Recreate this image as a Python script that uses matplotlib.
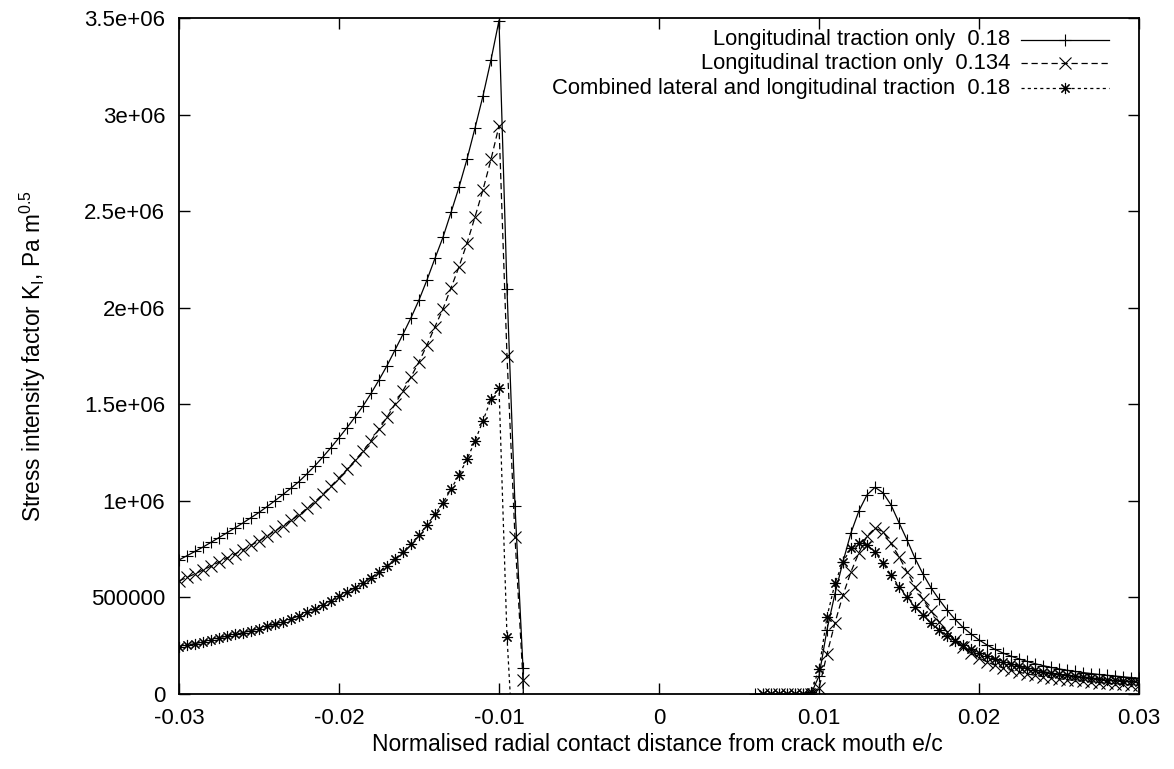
import matplotlib
matplotlib.use("Agg")
import matplotlib.pyplot as plt

# Données (K_I en Pa m^0.5)
x_left = [-0.0300, -0.0295, -0.0290, -0.0285, -0.0280, -0.0275, -0.0270, -0.0265,
          -0.0260, -0.0255, -0.0250, -0.0245, -0.0240, -0.0235, -0.0230, -0.0225,
          -0.0220, -0.0215, -0.0210, -0.0205, -0.0200, -0.0195, -0.0190, -0.0185,
          -0.0180, -0.0175, -0.0170, -0.0165, -0.0160, -0.0155, -0.0150, -0.0145,
          -0.0140, -0.0135, -0.0130, -0.0125, -0.0120, -0.0115, -0.0110, -0.0105,
          -0.0100, -0.0095, -0.0090, -0.0085, -0.0080]

x_right = [0.0060, 0.0065, 0.0070, 0.0075, 0.0080, 0.0085, 0.0090, 0.0095,
           0.0100, 0.0105, 0.0110, 0.0115, 0.0120, 0.0125, 0.0130, 0.0135,
           0.0140, 0.0145, 0.0150, 0.0155, 0.0160, 0.0165, 0.0170, 0.0175,
           0.0180, 0.0185, 0.0190, 0.0195, 0.0200, 0.0205, 0.0210, 0.0215,
           0.0220, 0.0225, 0.0230, 0.0235, 0.0240, 0.0245, 0.0250, 0.0255,
           0.0260, 0.0265, 0.0270, 0.0275, 0.0280, 0.0285, 0.0290, 0.0295, 0.0300]

# longitudinal 0.18 (+)
long18_left = [0.694, 0.716, 0.738, 0.761, 0.785, 0.810, 0.835, 0.860, 0.886, 0.913,
               0.940, 0.970, 1.001, 1.033, 1.066, 1.100, 1.140, 1.182, 1.228, 1.276,
               1.327, 1.379, 1.434, 1.491, 1.556, 1.626, 1.700, 1.781, 1.863, 1.948,
               2.040, 2.144, 2.256, 2.365, 2.493, 2.624, 2.769, 2.930, 3.097, 3.283,
               3.487, 2.096, 0.975, 0.136, -3.300]
long18_right = [0.0, 0.0, 0.0, 0.0, 0.0, 0.0, 0.0, 0.0,
                0.093, 0.333, 0.520, 0.685, 0.835, 0.949, 1.031, 1.070,
                1.042, 0.979, 0.887, 0.798, 0.703, 0.621, 0.550, 0.490,
                0.435, 0.387, 0.345, 0.311, 0.280, 0.254, 0.231, 0.212,
                0.196, 0.182, 0.169, 0.157, 0.147, 0.138, 0.130, 0.123,
                0.117, 0.111, 0.106, 0.101, 0.097, 0.093, 0.089, 0.085, 0.082]

# longitudinal 0.134 (x)
long134_left = [0.585, 0.604, 0.622, 0.642, 0.662, 0.683, 0.704, 0.725, 0.747, 0.770,
                0.792, 0.818, 0.844, 0.871, 0.899, 0.927, 0.961, 0.996, 1.035, 1.076,
                1.119, 1.163, 1.209, 1.257, 1.312, 1.371, 1.433, 1.501, 1.571, 1.642,
                1.720, 1.807, 1.902, 1.994, 2.102, 2.212, 2.334, 2.470, 2.611, 2.768,
                2.941, 1.750, 0.811, 0.075, -1.800]
long134_right = [None, 0.0, 0.0, 0.0, 0.0, 0.0, 0.0, 0.0,
                 0.030, 0.207, 0.369, 0.513, 0.633, 0.732, 0.818, 0.858,
                 0.841, 0.780, 0.711, 0.633, 0.556, 0.490, 0.430, 0.374,
                 0.323, 0.280, 0.242, 0.214, 0.187, 0.166, 0.149, 0.135,
                 0.123, 0.113, 0.104, 0.097, 0.090, 0.084, 0.079, 0.074,
                 0.070, 0.066, 0.062, 0.059, 0.056, 0.053, 0.050, 0.047, 0.045]

# combined lateral + longitudinal 0.18 (*)
comb18_left = [0.245, 0.253, 0.261, 0.270, 0.279, 0.291, 0.300, 0.309, 0.318, 0.328,
               0.338, 0.350, 0.362, 0.375, 0.389, 0.405, 0.423, 0.441, 0.461, 0.483,
               0.506, 0.528, 0.551, 0.576, 0.603, 0.633, 0.665, 0.699, 0.737, 0.778,
               0.823, 0.875, 0.931, 0.990, 1.060, 1.134, 1.215, 1.310, 1.415, 1.526,
               1.586, 0.297, -0.445, None, None]
comb18_right = [None, 0.0, 0.0, 0.0, 0.0, 0.0, 0.0, 0.010,
                0.128, 0.400, 0.573, 0.685, 0.754, 0.782, 0.772, 0.735,
                0.676, 0.616, 0.556, 0.500, 0.452, 0.409, 0.366, 0.331,
                0.300, 0.275, 0.252, 0.231, 0.212, 0.195, 0.180, 0.166,
                0.154, 0.143, 0.133, 0.124, 0.116, 0.109, 0.102, 0.096,
                0.091, 0.086, 0.082, 0.078, 0.074, 0.071, 0.068, 0.065, 0.063]

labels = ["Longitudinal traction only  0.18",
          "Longitudinal traction only  0.134",
          "Combined lateral and longitudinal traction  0.18"]


def to_pa(vals):
    return [float('nan') if v is None else v * 1e6 for v in vals]


plt.rcParams['font.family'] = ['Liberation Sans', 'DejaVu Sans']
plt.rcParams['mathtext.default'] = 'regular'

fig = plt.figure(figsize=(11.74, 7.69), dpi=100)
ax = fig.add_axes([179 / 1174, 75 / 769, 960 / 1174, 676 / 769])

styles = [dict(linestyle='-', marker='+'),
          dict(linestyle=(0, (5, 3)), marker='x'),
          dict(linestyle=(0, (2.5, 2.5)), marker=(8, 2, 0))]
series = [(long18_left, long18_right), (long134_left, long134_right),
          (comb18_left, comb18_right)]

for st, (yl, yr) in zip(styles, series):
    for xs, ys in ((x_left, yl), (x_right, yr)):
        ax.plot(xs, to_pa(ys), color='black', linewidth=0.9, markersize=8,
                markeredgewidth=0.8, **st)

# légende à la gnuplot (texte aligné à droite, échantillon de trait à droite)
rows_y = [0.968, 0.933, 0.896]
for st, lab, yy in zip(styles, labels, rows_y):
    ax.text(0.866, yy, lab, transform=ax.transAxes, ha='right', va='center',
            fontsize=15.8)
    ax.plot([0.877, 0.923, 0.969], [yy, yy, yy], transform=ax.transAxes,
            color='black', linewidth=0.9, markersize=8, markeredgewidth=0.8,
            markevery=[1], clip_on=False, **st)

ax.set_xlim(-0.03, 0.03)
ax.set_ylim(0, 3.5e6)
ax.set_xticks([-0.03, -0.02, -0.01, 0, 0.01, 0.02, 0.03])
ax.set_xticklabels(['-0.03', '-0.02', '-0.01', '0', '0.01', '0.02', '0.03'])
ax.set_yticks([0, 5e5, 1e6, 1.5e6, 2e6, 2.5e6, 3e6, 3.5e6])
ax.set_yticklabels(['0', '500000', '1e+06', '1.5e+06', '2e+06', '2.5e+06',
                    '3e+06', '3.5e+06'])
ax.tick_params(direction='in', length=8, width=1, top=True, right=True,
               labelsize=16)
ax.tick_params(axis='x', pad=10)
ax.tick_params(axis='y', pad=10)
for sp in ax.spines.values():
    sp.set_linewidth(1.3)

ax.set_xlabel('Normalised radial contact distance from crack mouth e/c',
              fontsize=16.5)
ax.set_ylabel('Stress intensity factor K$_I$, Pa m$^{0.5}$', fontsize=16.3)
ax.xaxis.set_label_coords(0.498, -0.058)
ax.yaxis.set_label_coords(-0.136, 0.5)

fig.savefig('out.png', dpi=100)
